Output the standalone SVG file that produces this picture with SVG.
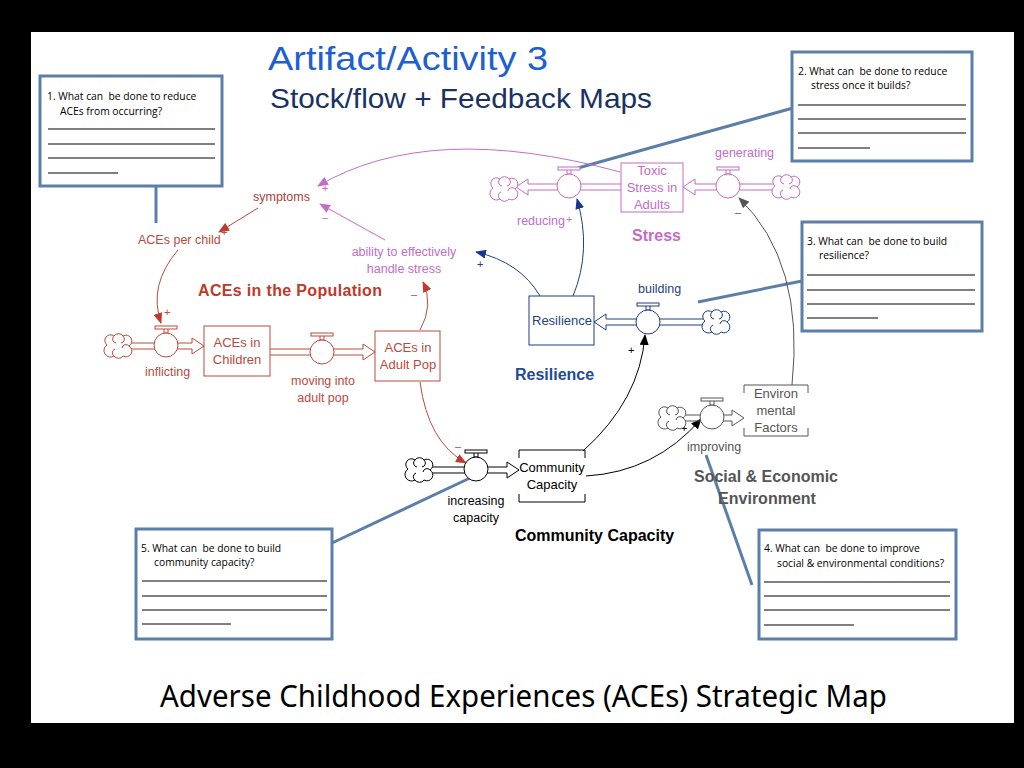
<svg xmlns="http://www.w3.org/2000/svg" xmlns:xlink="http://www.w3.org/1999/xlink" width="1024" height="768" viewBox="0 0 1024 768">
<defs>
<style>
.lbl{font-family:"Liberation Sans",Arial,sans-serif;font-size:12.5px}
.sgn{font-family:"Liberation Sans",Arial,sans-serif;font-size:11px}
.stk{font-family:"Liberation Sans",Arial,sans-serif;font-size:13px;text-anchor:middle}
.sec{font-family:"Liberation Sans",Arial,sans-serif;font-size:16px;font-weight:bold}
.q{font-family:"Open Sans","Liberation Sans",sans-serif;font-size:10.3px;fill:#000;white-space:pre}
.qbox{fill:#fff;stroke:#5b7fa8;stroke-width:3}
.qline{stroke:#000;stroke-width:1}
.call{stroke:#5b7fa8;stroke-width:3;fill:none}
.pipe{fill:none;stroke-width:1}
.pink{fill:#c46cc4}
.red{fill:#b94a3c}
.navy{fill:#1f3f80}
.gray{fill:#555}
.lnk{fill:none;stroke-width:1}
</style>
<symbol id="valve" overflow="visible">
<rect x="-2" y="-17" width="4" height="5" fill="#fff" stroke="currentColor"/>
<rect x="-11" y="-19" width="22" height="3" fill="#fff" stroke="currentColor"/>
<circle cx="0" cy="0" r="12" fill="#fff" stroke="currentColor"/>
</symbol>
<symbol id="cloud" overflow="visible">
<path d="M-11,-1 A5.5,5.5 0 0 1 -4,-10 A5.5,5.5 0 0 1 5,-10 A5.5,5.5 0 0 1 11,0 A5.5,5.5 0 0 1 5,10 A5.5,5.5 0 0 1 -4,10 A5.5,5.5 0 0 1 -11,-1 Z M-4,-10 A4,4 0 0 0 -2,-3 M5,-10 A4,4 0 0 1 3,-3 M11,0 A4,4 0 0 0 4,2 M-4,10 A4,4 0 0 1 -3,3" fill="#fff" stroke="currentColor"/>
</symbol>
<marker id="mRed" markerUnits="userSpaceOnUse" markerWidth="11" markerHeight="9" refX="10" refY="4.5" orient="auto"><path d="M0,0 L11,4.5 L0,9 Z" fill="#c0392b"/></marker>
<marker id="mPink" markerUnits="userSpaceOnUse" markerWidth="11" markerHeight="9" refX="10" refY="4.5" orient="auto"><path d="M0,0 L11,4.5 L0,9 Z" fill="#c66cc6"/></marker>
<marker id="mNavy" markerUnits="userSpaceOnUse" markerWidth="11" markerHeight="9" refX="10" refY="4.5" orient="auto"><path d="M0,0 L11,4.5 L0,9 Z" fill="#1a3590"/></marker>
<marker id="mBlack" markerUnits="userSpaceOnUse" markerWidth="11" markerHeight="9" refX="10" refY="4.5" orient="auto"><path d="M0,0 L11,4.5 L0,9 Z" fill="#000"/></marker>
<marker id="mGray" markerUnits="userSpaceOnUse" markerWidth="11" markerHeight="9" refX="10" refY="4.5" orient="auto"><path d="M0,0 L11,4.5 L0,9 Z" fill="#555"/></marker>
</defs>

<rect x="0" y="0" width="1024" height="768" fill="#000"/>
<rect x="31" y="32" width="983" height="691" fill="#fff"/>

<g id="titles">
<text x="268" y="70" font-family="Liberation Sans,Arial,sans-serif" font-size="34" fill="#1f5fd0" textLength="280" lengthAdjust="spacingAndGlyphs">Artifact/Activity 3</text>
<text x="270" y="108" font-family="Liberation Sans,Arial,sans-serif" font-size="28" fill="#1a3262" textLength="382" lengthAdjust="spacingAndGlyphs">Stock/flow + Feedback Maps</text>
<text x="160" y="707" font-family="Noto Sans,Open Sans,sans-serif" font-size="30" fill="#000" textLength="727" lengthAdjust="spacingAndGlyphs">Adverse Childhood Experiences (ACEs) Strategic Map</text>
</g>

<g id="connectors">
<path class="call" d="M156,186 L156,223"/>
<path class="call" d="M793,108 L578,168"/>
<path class="call" d="M802,281 L698,302"/>
<path class="call" d="M752,585 L706,455"/>
<path class="call" d="M332,543 L470,478"/>
<path class="lnk" stroke="#c66cc6" d="M620,172 Q430,120 318,186" marker-end="url(#mPink)"/>
<path class="lnk" stroke="#c66cc6" d="M385,240 L320,204" marker-end="url(#mPink)"/>
<path class="lnk" stroke="#b94a3c" d="M258,208 L219,232" marker-end="url(#mRed)"/>
<path class="lnk" stroke="#b94a3c" d="M178,250 Q148,285 161,323" marker-end="url(#mRed)"/>
<path class="lnk" stroke="#b94a3c" d="M420,330 Q434,305 423,282" marker-end="url(#mRed)"/>
<path class="lnk" stroke="#b94a3c" d="M420,382 Q428,442 466,463" marker-end="url(#mRed)"/>
<path class="lnk" stroke="#1f3f80" d="M540,296 Q520,262 476,252" marker-end="url(#mNavy)"/>
<path class="lnk" stroke="#1f3f80" d="M573,296 Q592,250 577,199" marker-end="url(#mNavy)"/>
<path class="lnk" stroke="#000" d="M583,451 Q640,400 645,335" marker-end="url(#mBlack)"/>
<path class="lnk" stroke="#000" d="M586,476 Q655,472 701,419" marker-end="url(#mBlack)"/>
<path class="lnk" stroke="#555" d="M792,385 Q805,262 739,198" marker-end="url(#mGray)"/>
<g class="sgn">
<text x="322" y="192" class="pink">+</text>
<text x="322" y="221" class="pink">–</text>
<text x="221" y="236" class="red">+</text>
<text x="164" y="316" class="red">+</text>
<text x="411" y="298" class="red">–</text>
<text x="455" y="450" class="red">–</text>
<text x="477" y="268" class="navy">+</text>
<text x="566" y="223" class="pink">+</text>
<text x="628" y="354" fill="#000">+</text>
<text x="681" y="432" fill="#000">+</text>
<text x="735" y="216" class="gray">–</text>
</g>
</g>

<g id="stress" color="#c46cc4">
<path class="pipe" stroke="#c46cc4" d="M774,184 H695 V179 L683,187 L695,195 V190 H774"/>
<path class="pipe" stroke="#c46cc4" d="M621,184 H528 V179 L516,187 L528,195 V190 H621"/>
<use xlink:href="#cloud" x="786" y="187"/>
<use xlink:href="#cloud" x="504" y="189"/>
<use xlink:href="#valve" x="728" y="186"/>
<use xlink:href="#valve" x="569" y="186"/>
<rect x="621" y="163" width="62" height="49" fill="#fff" stroke="#c46cc4"/>
<text class="stk pink" x="652" y="175">Toxic</text>
<text class="stk pink" x="652" y="192">Stress in</text>
<text class="stk pink" x="652" y="209">Adults</text>
<text class="lbl pink" x="715" y="157">generating</text>
<text class="lbl pink" x="517" y="225">reducing</text>
<text class="sec pink" x="632" y="241">Stress</text>
</g>

<g id="symptoms"><text class="lbl" x="253" y="201" fill="#a8443a">symptoms</text></g>
<g id="aces-per-child"><text class="lbl red" x="138" y="244">ACEs per child</text></g>
<g id="ability"><text class="lbl pink" x="404" y="256" text-anchor="middle">ability to effectively</text><text class="lbl pink" x="404" y="273" text-anchor="middle">handle stress</text></g>

<g id="aces" color="#b94a3c">
<path class="pipe" stroke="#b94a3c" d="M130,343 H192 V338 L204,346 L192,354 V349 H130"/>
<path class="pipe" stroke="#b94a3c" d="M270,349 H363 V344 L375,352 L363,360 V355 H270"/>
<use xlink:href="#cloud" x="118" y="346"/>
<use xlink:href="#valve" x="166" y="345"/>
<use xlink:href="#valve" x="322" y="352"/>
<rect x="204" y="326" width="66" height="50" fill="#fff" stroke="#b94a3c"/>
<text class="stk red" x="237" y="347">ACEs in</text>
<text class="stk red" x="237" y="364">Children</text>
<rect x="375" y="331" width="65" height="50" fill="#fff" stroke="#b94a3c"/>
<text class="stk red" x="408" y="352">ACEs in</text>
<text class="stk red" x="408" y="369">Adult Pop</text>
<text class="lbl red" x="145" y="376">inflicting</text>
<text class="lbl red" x="323" y="385" text-anchor="middle">moving into</text>
<text class="lbl red" x="323" y="402" text-anchor="middle">adult pop</text>
<text class="sec" x="198" y="296" fill="#c0392b" textLength="184">ACEs in the Population</text>
</g>

<g id="resilience" color="#1f3f80">
<path class="pipe" stroke="#1f3f80" d="M705,319 H606 V314 L594,322 L606,330 V325 H705"/>
<use xlink:href="#cloud" x="716" y="322"/>
<use xlink:href="#valve" x="648" y="322"/>
<rect x="529" y="296" width="65" height="49" fill="#fff" stroke="#1f3f80"/>
<text class="stk navy" x="562" y="325">Resilience</text>
<text class="lbl navy" x="638" y="293">building</text>
<text class="sec" x="515" y="380" fill="#1f4a9a">Resilience</text>
</g>

<g id="community" color="#000">
<path class="pipe" stroke="#000" d="M430,467 H507 V462 L519,470 L507,478 V473 H430"/>
<use xlink:href="#cloud" x="419" y="470"/>
<use xlink:href="#valve" x="476" y="469"/>
<path d="M519,458 V450 H585 V458 M519,494 V502 H585 V494" fill="none" stroke="#000"/>
<text class="stk" x="552" y="472" fill="#000">Community</text>
<text class="stk" x="552" y="489" fill="#000">Capacity</text>
<text class="lbl" x="476" y="505" text-anchor="middle" fill="#000">increasing</text>
<text class="lbl" x="476" y="522" text-anchor="middle" fill="#000">capacity</text>
<text class="sec" x="515" y="541" fill="#000">Community Capacity</text>
</g>

<g id="environment" color="#555">
<path class="pipe" stroke="#555" d="M683,415 H732 V410 L744,418 L732,426 V421 H683"/>
<use xlink:href="#cloud" x="672" y="418"/>
<use xlink:href="#valve" x="712" y="417"/>
<path d="M744,393 V385 H808 V393 M744,428 V436 H808 V428" fill="none" stroke="#555"/>
<text class="stk gray" x="776" y="398">Environ</text>
<text class="stk gray" x="776" y="415">mental</text>
<text class="stk gray" x="776" y="432">Factors</text>
<text class="lbl gray" x="687" y="451">improving</text>
<text class="sec gray" x="766" y="482" text-anchor="middle">Social &amp; Economic</text>
<text class="sec gray" x="767" y="504" text-anchor="middle">Environment</text>
</g>

<g id="q1">
<rect class="qbox" x="40" y="76" width="182" height="110"/>
<text class="q" x="47" y="100" xml:space="preserve">1. What can  be done to reduce</text>
<text class="q" x="60" y="115">ACEs from occurring?</text>
<path class="qline" d="M48,129 H215 M48,144 H215 M48,158 H215 M48,173 H118"/>
</g>
<g id="q2">
<rect class="qbox" x="792" y="52" width="180" height="109"/>
<text class="q" x="798" y="75" xml:space="preserve">2. What can  be done to reduce</text>
<text class="q" x="811" y="89">stress once it builds?</text>
<path class="qline" d="M798,105 H966 M798,119 H966 M798,133 H966 M798,148 H870"/>
</g>
<g id="q3">
<rect class="qbox" x="802" y="222" width="180" height="109"/>
<text class="q" x="807" y="245" xml:space="preserve">3. What can  be done to build</text>
<text class="q" x="819" y="259">resilience?</text>
<path class="qline" d="M807,275 H975 M807,290 H975 M807,304 H975 M807,318 H878"/>
</g>
<g id="q4">
<rect class="qbox" x="759" y="530" width="197" height="109"/>
<text class="q" x="764" y="552" xml:space="preserve">4. What can  be done to improve</text>
<text class="q" x="777" y="567">social &amp; environmental conditions?</text>
<path class="qline" d="M764,582 H950 M764,596 H950 M764,610 H950 M764,625 H854"/>
</g>
<g id="q5">
<rect class="qbox" x="136" y="529" width="196" height="110"/>
<text class="q" x="141" y="552" xml:space="preserve">5. What can  be done to build</text>
<text class="q" x="154" y="566">community capacity?</text>
<path class="qline" d="M142,581 H327 M142,596 H327 M142,610 H327 M142,624 H231"/>
</g>
</svg>
